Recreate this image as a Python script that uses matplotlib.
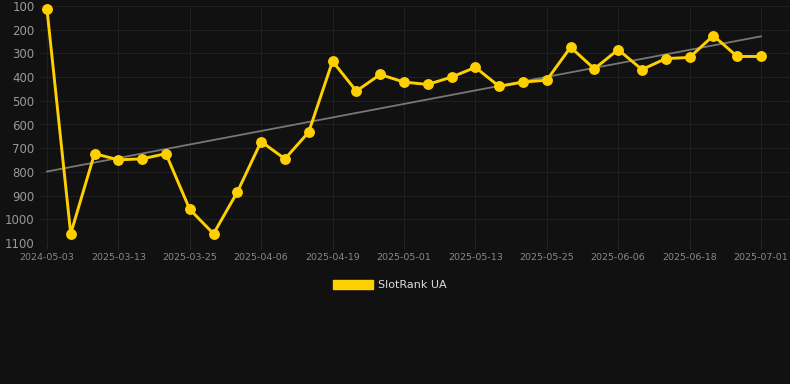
import numpy as np
import matplotlib
matplotlib.use('Agg')
import matplotlib.pyplot as plt
from matplotlib.patches import Patch

# Datos del gráfico
fechas = ['2024-05-03', '2025-03-05', '2025-03-09', '2025-03-13', '2025-03-17',
          '2025-03-21', '2025-03-25', '2025-03-29', '2025-04-02', '2025-04-06',
          '2025-04-10', '2025-04-14', '2025-04-19', '2025-04-23', '2025-04-27',
          '2025-05-01', '2025-05-05', '2025-05-09', '2025-05-13', '2025-05-17',
          '2025-05-21', '2025-05-25', '2025-05-29', '2025-06-02', '2025-06-06',
          '2025-06-10', '2025-06-14', '2025-06-18', '2025-06-22', '2025-06-26',
          '2025-07-01']
rank = [111, 1061, 723, 749, 745, 723, 958, 1061, 885, 672,
        745, 632, 333, 459, 389, 421, 431, 400, 359, 439,
        421, 413, 274, 365, 284, 368, 322, 317, 225, 313, 313]
yticks = [100, 200, 300, 400, 500, 600, 700, 800, 900, 1000, 1100]

bg = '#111111'
amarillo = '#FFD000'

fig = plt.figure(figsize=(7.9, 3.84), dpi=100, facecolor=bg)
ax = fig.add_axes([40 / 790, 1 - 243 / 384, 750 / 790, 237 / 384])
ax.set_facecolor(bg)

x = np.arange(len(rank))

# Línea de tendencia (regresión lineal)
m, b = np.polyfit(x, rank, 1)
ax.plot(x, m * x + b, color='#777777', linewidth=1.3, zorder=2)

ax.plot(x, rank, color=amarillo, linewidth=2.1, marker='o', markersize=6.8,
        zorder=3, clip_on=False)

ax.set_xlim(-0.29, 31.22)
ax.set_ylim(1100, 100)
ax.set_yticks(yticks)
ax.set_xticks(x[::3])
ax.set_xticklabels(fechas[::3])

ax.grid(True, color='#202020', linewidth=0.75)
ax.set_axisbelow(True)
for s in ax.spines.values():
    s.set_visible(False)
ax.axhline(1100, color='#2a2a2a', linewidth=0.75, zorder=1)
ax.tick_params(axis='y', colors='#999999', labelsize=8.5, length=0, pad=4)
ax.tick_params(axis='x', colors='#888888', labelsize=6.8, length=4, pad=3,
               color='#262626')

leg = fig.legend(handles=[Patch(facecolor=amarillo, edgecolor=amarillo, label='SlotRank UA')],
                 loc='center', bbox_to_anchor=(390 / 790, 1 - 285 / 384),
                 frameon=False, handlelength=3.6, handleheight=0.95,
                 fontsize=8, labelcolor='#dddddd', handletextpad=0.5)

fig.savefig('out.png', dpi=100, facecolor=bg)
